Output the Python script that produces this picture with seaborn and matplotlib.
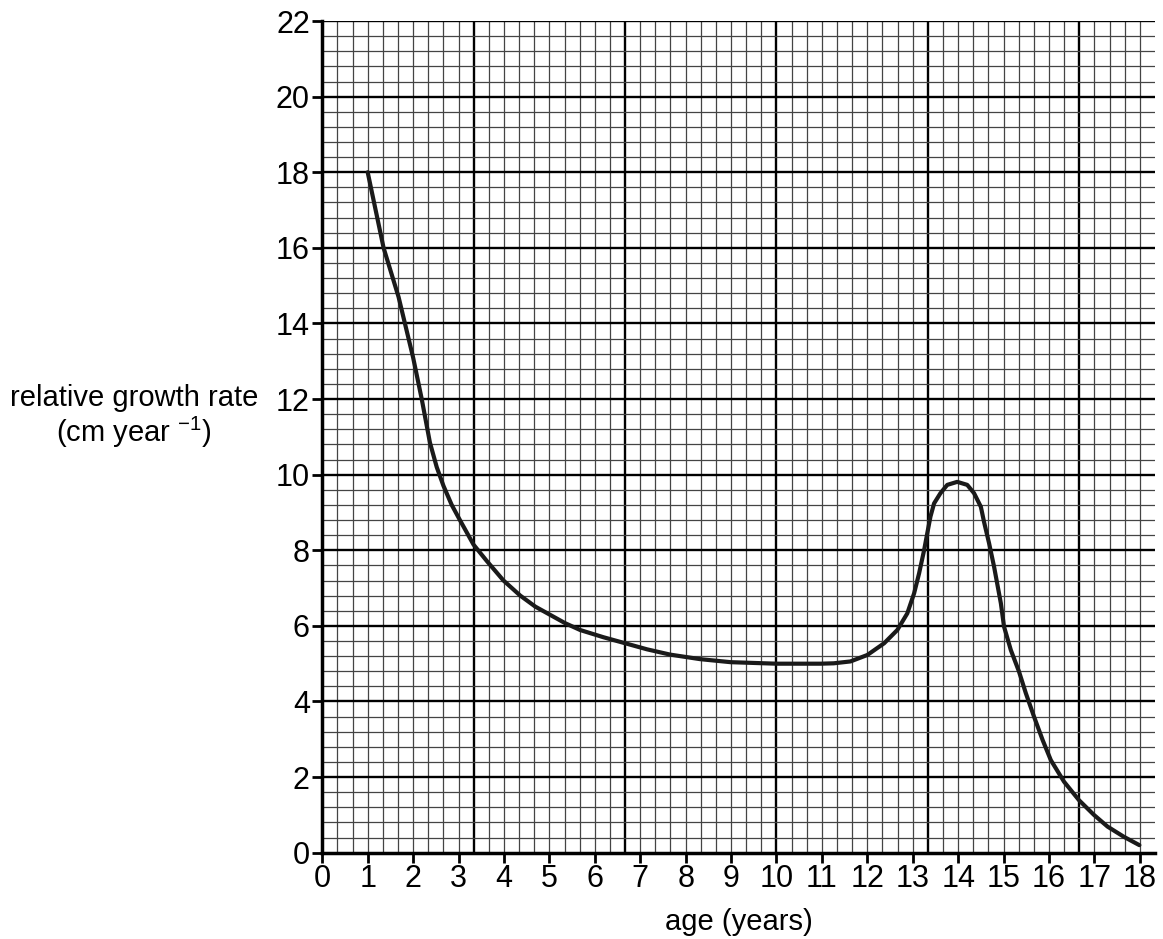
import numpy as np
import pandas as pd
import seaborn as sns
from matplotlib import pyplot as plt

# values
age = [1.0, 1.35, 1.68, 2.0, 2.19, 2.37, 2.52, 2.67, 2.85, 3.03, 3.33, 3.62,
       3.99, 4.36, 4.69, 5.02, 5.35, 5.68, 6.19, 6.67, 7.15, 7.66, 8.32, 8.99,
       10.0, 10.97, 11.26, 11.63, 12.0, 12.37, 12.66, 12.88, 13.03, 13.14,
       13.25, 13.32, 13.39, 13.47, 13.61, 13.76, 13.98, 14.2, 14.35, 14.5,
       14.57, 14.68, 14.79, 14.94, 15.01, 15.16, 15.34, 15.49, 15.67, 15.86,
       16.04, 16.33, 16.66, 16.99, 17.29, 17.65, 17.99]
growth_rate = [18.0, 16.0, 14.7, 13.1, 12.0, 10.85, 10.2, 9.7, 9.2, 8.8, 8.15, 7.72,
               7.2, 6.8, 6.51, 6.29, 6.07, 5.89, 5.7, 5.54, 5.38, 5.24, 5.12, 5.04,
               5.0, 5.0, 5.01, 5.06, 5.23, 5.54, 5.89, 6.33, 6.86, 7.39,
               8.0, 8.45, 8.89, 9.24, 9.51, 9.73, 9.81, 9.73, 9.51, 9.15,
               8.75, 8.19, 7.57, 6.6, 5.98, 5.36, 4.79, 4.22, 3.6, 2.98,
               2.45, 1.88, 1.39, 1.0, 0.69, 0.42, 0.2]
x_ticks = list(range(0, 19))
y_ticks = list(range(0, 23, 2))

sns.set_style("white")
plt.rcParams["font.family"] = ["Liberation Sans", "DejaVu Sans"]
plt.rcParams["mathtext.fontset"] = "custom"
plt.rcParams["mathtext.rm"] = "Liberation Sans"
plt.rcParams["mathtext.it"] = "Liberation Sans"
plt.rcParams["text.color"] = "black"
plt.rcParams["axes.labelcolor"] = "black"
plt.rcParams["xtick.color"] = "black"
plt.rcParams["ytick.color"] = "black"

df = pd.DataFrame({"age": age, "rate": growth_rate})

fig = plt.figure(figsize=(11.63, 9.39), dpi=100)
ax = fig.add_axes([0.2771, 0.0919, 0.9931 - 0.2771, 0.9776 - 0.0919])

# graph paper grid
ax.set_xlim(0, 55 / 3)
ax.set_ylim(0, 22)
for xv in np.arange(1, 55) / 3:
    major = abs(xv * 3 % 10) < 1e-6
    ax.axvline(xv, color="black" if major else "#444444",
               lw=1.7 if major else 0.9, zorder=1)
for yv in np.arange(1, 56) * 0.4:
    major = abs(yv / 2 - round(yv / 2)) < 1e-6
    ax.axhline(yv, color="black" if major else "#444444",
               lw=1.7 if major else 0.9, zorder=1)

sns.lineplot(data=df, x="age", y="rate", sort=False, color="#1a1a1a",
             linewidth=3, ax=ax, zorder=3)

ax.set_xticks(x_ticks)
ax.set_yticks(y_ticks)
ax.tick_params(axis="both", direction="out", length=7, width=2,
               labelsize=22, color="black", bottom=True, left=True)
ax.tick_params(axis="x", pad=1)
ax.tick_params(axis="y", pad=2)
for side in ["left", "bottom"]:
    ax.spines[side].set_linewidth(2.5)
    ax.spines[side].set_color("black")
    ax.spines[side].set_zorder(4)
for side in ["top", "right"]:
    ax.spines[side].set_visible(False)

ax.set_xlabel("age (years)", fontsize=21, labelpad=10)
ax.set_ylabel("")
fig.text(134 / 1163, 1 - 398 / 939, "relative growth rate", fontsize=21,
         ha="center", va="center")
fig.text(134 / 1163, 1 - 432 / 939, "(cm year $^{-1}$)", fontsize=21,
         ha="center", va="center")

fig.savefig("out.png", dpi=100)
